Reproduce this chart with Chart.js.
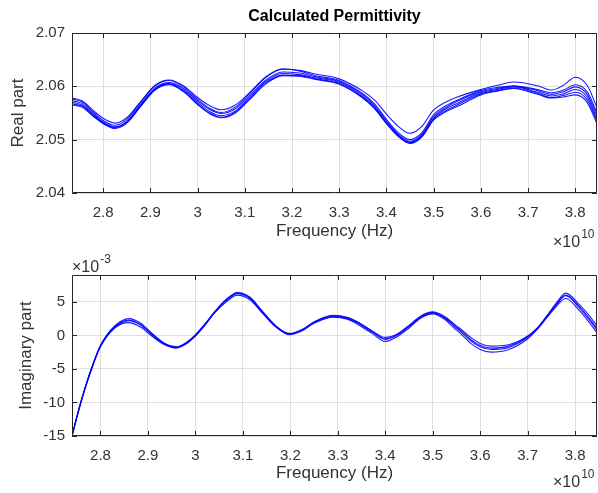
<!DOCTYPE html>
<html>
<head>
<meta charset="utf-8">
<script src="https://cdn.jsdelivr.net/npm/chart.js@4.4.1/dist/chart.umd.min.js"></script>
<style>
  body { margin: 0; background: #fff; }
  #wrap { position: relative; width: 598px; height: 493px; }
  canvas { position: absolute; left: 0; }
  #realChart { top: 0; }
  #imagChart { top: 250px; }
</style>
</head>
<body>
<div id="wrap">
  <canvas id="realChart" width="598" height="250"></canvas>
  <canvas id="imagChart" width="598" height="243"></canvas>
</div>
<script>
// frequency in units of 1e10 Hz
var realFreq = [2.734, 2.755, 2.78, 2.80, 2.825, 2.85, 2.88, 2.91, 2.94, 2.97, 3.0, 3.025, 3.05, 3.08, 3.11, 3.145, 3.18, 3.215, 3.25, 3.3,
                3.35, 3.375, 3.4, 3.425, 3.45, 3.475, 3.5, 3.525, 3.55, 3.6, 3.635, 3.67, 3.72, 3.75, 3.775, 3.8, 3.825, 3.846];

// real part, one array per measurement
var realA = [2.0578, 2.0573, 2.0554, 2.0540, 2.0531, 2.0541, 2.0572, 2.0601, 2.0611, 2.0599, 2.0576, 2.0559, 2.0551, 2.0561, 2.0586, 2.0617, 2.0632, 2.0630, 2.0623, 2.0614,
             2.0591, 2.0574, 2.0548, 2.0525, 2.0512, 2.0525, 2.0556, 2.0570, 2.0580, 2.0594, 2.0602, 2.0608, 2.0601, 2.0593, 2.0602, 2.0617, 2.0602, 2.0560];
var realB = [2.0576, 2.0571, 2.0551, 2.0536, 2.0527, 2.0538, 2.0571, 2.0602, 2.0612, 2.0601, 2.0579, 2.0564, 2.0556, 2.0565, 2.0588, 2.0618, 2.0633, 2.0629, 2.0620, 2.0611,
             2.0586, 2.0567, 2.0538, 2.0513, 2.0500, 2.0513, 2.0547, 2.0563, 2.0574, 2.0592, 2.0598, 2.0601, 2.0594, 2.0588, 2.0593, 2.0603, 2.0590, 2.0550];
var realC = [2.0573, 2.0568, 2.0548, 2.0533, 2.0524, 2.0534, 2.0567, 2.0597, 2.0607, 2.0596, 2.0573, 2.0557, 2.0549, 2.0558, 2.0582, 2.0612, 2.0627, 2.0625, 2.0618, 2.0609,
             2.0584, 2.0564, 2.0535, 2.0510, 2.0497, 2.0510, 2.0543, 2.0560, 2.0572, 2.0590, 2.0596, 2.0600, 2.0592, 2.0585, 2.0590, 2.0599, 2.0585, 2.0545];
var realD = [2.0570, 2.0565, 2.0546, 2.0532, 2.0523, 2.0533, 2.0565, 2.0595, 2.0605, 2.0593, 2.0570, 2.0553, 2.0545, 2.0554, 2.0579, 2.0609, 2.0624, 2.0622, 2.0616, 2.0607,
             2.0581, 2.0561, 2.0532, 2.0508, 2.0495, 2.0508, 2.0540, 2.0557, 2.0568, 2.0588, 2.0594, 2.0599, 2.0589, 2.0582, 2.0586, 2.0594, 2.0580, 2.0540];
var realE = [2.0567, 2.0563, 2.0544, 2.0531, 2.0522, 2.0532, 2.0564, 2.0594, 2.0604, 2.0591, 2.0567, 2.0550, 2.0542, 2.0552, 2.0576, 2.0606, 2.0621, 2.0620, 2.0614, 2.0605,
             2.0579, 2.0559, 2.0531, 2.0507, 2.0494, 2.0506, 2.0538, 2.0554, 2.0565, 2.0586, 2.0592, 2.0597, 2.0587, 2.0579, 2.0583, 2.0589, 2.0575, 2.0535];
var realF = [2.0565, 2.0561, 2.0543, 2.0530, 2.0521, 2.0531, 2.0563, 2.0593, 2.0603, 2.0590, 2.0566, 2.0549, 2.0541, 2.0550, 2.0575, 2.0605, 2.0620, 2.0619, 2.0613, 2.0604,
             2.0578, 2.0558, 2.0530, 2.0506, 2.0493, 2.0505, 2.0537, 2.0552, 2.0562, 2.0584, 2.0591, 2.0596, 2.0585, 2.0578, 2.0580, 2.0584, 2.0570, 2.0530];

var imagFreq = [2.74, 2.755, 2.77, 2.785, 2.8, 2.83, 2.86, 2.885, 2.91, 2.935, 2.96, 2.98, 3.0, 3.02, 3.04, 3.065, 3.088, 3.115, 3.14, 3.17,
                3.198, 3.225, 3.25, 3.29, 3.32, 3.345, 3.372, 3.4, 3.425, 3.45, 3.475, 3.5, 3.525, 3.545, 3.56, 3.58, 3.6, 3.623, 3.66, 3.7,
                3.72, 3.74, 3.76, 3.78, 3.81, 3.83, 3.846];

// imaginary part, in units of 1e-3
var imagA = [-15, -10.8, -7.2, -4.1, -1.5, 1.4, 2.5, 1.8, 0.2, -1.2, -1.7, -1.1, 0.1, 1.7, 3.5, 5.4, 6.4, 5.7, 3.7, 1.4,
             0.3, 0.9, 2.0, 3.0, 2.7, 1.9, 0.7, -0.3, 0.2, 1.5, 2.9, 3.5, 2.8, 1.7, 0.9, -0.3, -1.2, -1.6, -1.4, -0.1,
             1.1, 2.9, 4.8, 6.3, 4.5, 2.9, 1.4];
var imagB = [-15, -10.9, -7.3, -4.2, -1.5, 1.3, 2.3, 1.6, 0.1, -1.2, -1.8, -1.2, 0.0, 1.6, 3.4, 5.3, 6.3, 5.6, 3.6, 1.3,
             0.2, 0.8, 2.0, 2.9, 2.6, 1.8, 0.6, -0.5, 0.1, 1.4, 2.8, 3.4, 2.7, 1.5, 0.7, -0.6, -1.5, -1.9, -1.6, -0.2,
             1.0, 2.8, 4.6, 6.0, 4.2, 2.5, 1.0];
var imagC = [-15, -10.9, -7.3, -4.2, -1.6, 1.2, 2.2, 1.5, 0.0, -1.3, -1.8, -1.2, 0.0, 1.6, 3.4, 5.2, 6.2, 5.5, 3.5, 1.3,
             0.2, 0.8, 1.9, 2.8, 2.5, 1.7, 0.5, -0.6, 0.0, 1.3, 2.7, 3.3, 2.6, 1.4, 0.5, -0.8, -1.7, -2.1, -1.8, -0.3,
             1.0, 2.7, 4.5, 5.9, 4.0, 2.3, 0.8];
var imagD = [-15, -11.0, -7.4, -4.3, -1.7, 1.1, 1.9, 1.2, -0.2, -1.4, -1.9, -1.3, -0.1, 1.5, 3.3, 5.0, 6.0, 5.3, 3.4, 1.2,
             0.1, 0.7, 1.8, 2.7, 2.4, 1.5, 0.3, -0.9, -0.2, 1.1, 2.6, 3.2, 2.4, 1.1, 0.2, -1.2, -2.1, -2.5, -2.1, -0.5,
             0.9, 2.6, 4.3, 5.5, 3.6, 1.9, 0.4];

var realTicks = [2.04, 2.05, 2.06, 2.07];
var imagTicks = [-15, -10, -5, 0, 5];

var TEXT = '#333333';
var GRID = '#dfdfdf';
var FONT = "'Liberation Sans', Arial, Helvetica, sans-serif";

function makeSeries(xs, list) {
  return list.map(function(vals) {
    return {
      data: xs.map(function(x, i) { return { x: x, y: vals[i] }; }),
      borderColor: 'rgba(0,0,255,0.9)',
      borderWidth: 1.1,
      pointRadius: 0,
      cubicInterpolationMode: 'monotone',
      fill: false
    };
  });
}

// box, inward tick marks and the extra texts (title, exponents)
var matlabBox = {
  id: 'matlabBox',
  afterDraw: function(chart, args, opts) {
    var ctx = chart.ctx, a = chart.chartArea;
    var sx = chart.scales.x, sy = chart.scales.y;
    ctx.save();
    ctx.strokeStyle = '#262626';
    ctx.lineWidth = 1;
    ctx.beginPath();
    ctx.rect(a.left + 0.5, a.top + 0.5, a.right - a.left - 1, a.bottom - a.top - 1);
    sx.ticks.forEach(function(t) {
      var px = Math.round(sx.getPixelForValue(t.value)) + 0.5;
      ctx.moveTo(px, a.bottom); ctx.lineTo(px, a.bottom - 5);
      ctx.moveTo(px, a.top); ctx.lineTo(px, a.top + 5);
    });
    sy.ticks.forEach(function(t) {
      var py = Math.round(sy.getPixelForValue(t.value)) + 0.5;
      ctx.moveTo(a.left, py); ctx.lineTo(a.left + 5, py);
      ctx.moveTo(a.right, py); ctx.lineTo(a.right - 5, py);
    });
    ctx.stroke();

    if (opts.title) {
      ctx.font = 'bold 16px ' + FONT;
      ctx.fillStyle = '#000';
      ctx.textAlign = 'center';
      ctx.textBaseline = 'middle';
      ctx.fillText(opts.title, (a.left + a.right) / 2, 17);
    }
    ctx.fillStyle = TEXT;
    ctx.textAlign = 'left';
    ctx.textBaseline = 'alphabetic';
    (opts.exps || []).forEach(function(e) {
      ctx.font = '16px ' + FONT;
      ctx.fillText(e.base, e.x, e.y);
      var w = ctx.measureText(e.base).width;
      ctx.font = '12px ' + FONT;
      ctx.fillText(e.sup, e.x + w + 1, e.y - 9);
    });
    ctx.restore();
  }
};

function tickLabel(v) {
  return String(Number(v.toFixed(3)));
}

function makeChart(id, xs, series, yMin, yMax, yStep, yTickFn, yTitle, yTitlePad, xMin, xMax, xTitlePad, padTop, plugOpts) {
  return new Chart(document.getElementById(id), {
    type: 'line',
    data: { datasets: makeSeries(xs, series) },
    options: {
      responsive: false,
      animation: false,
      layout: { padding: { top: padTop, right: 1, left: 0, bottom: 0 } },
      plugins: {
        legend: { display: false },
        tooltip: { enabled: false },
        matlabBox: plugOpts
      },
      scales: {
        x: {
          type: 'linear',
          min: xMin,
          max: xMax,
          afterFit: function(s) { s.height = 57; s.paddingLeft = 0; s.paddingRight = 0; },
          ticks: {
            stepSize: 0.1,
            includeBounds: false,
            maxRotation: 0,
            autoSkip: false,
            padding: 11,
            color: TEXT,
            font: { family: FONT, size: 15 },
            callback: tickLabel
          },
          grid: { color: GRID, drawTicks: false },
          border: { display: false },
          title: {
            display: true,
            text: 'Frequency (Hz)',
            color: TEXT,
            font: { family: FONT, size: 17 },
            padding: { top: 0, bottom: xTitlePad }
          }
        },
        y: {
          min: yMin,
          max: yMax,
          afterFit: function(s) { s.width = 72; },
          ticks: {
            stepSize: yStep,
            includeBounds: false,
            padding: 7,
            color: TEXT,
            font: { family: FONT, size: 15 },
            callback: yTickFn
          },
          grid: { color: GRID, drawTicks: false },
          border: { display: false },
          title: {
            display: true,
            text: yTitle,
            color: TEXT,
            font: { family: FONT, size: 17 },
            padding: { top: yTitlePad, bottom: 0 }
          }
        }
      }
    },
    plugins: [matlabBox]
  });
}

makeChart('realChart', realFreq, [realA, realB, realC, realD, realE, realF],
  realTicks[0], realTicks[realTicks.length - 1], 0.01,
  function(v) { return v.toFixed(2); },
  'Real part', 8, 2.734, 3.846, 8, 33,
  { title: 'Calculated Permittivity', exps: [{ base: '\u00d710', sup: '10', x: 553, y: 247 }] });

makeChart('imagChart', imagFreq, [imagA, imagB, imagC, imagD],
  imagTicks[0], 9, 5,
  function(v) { return String(v); },
  'Imaginary part', 16, 2.74, 3.846, 9, 25,
  { exps: [{ base: '\u00d710', sup: '10', x: 553, y: 237 }, { base: '\u00d710', sup: '-3', x: 72, y: 22 }] });
</script>
</body>
</html>
